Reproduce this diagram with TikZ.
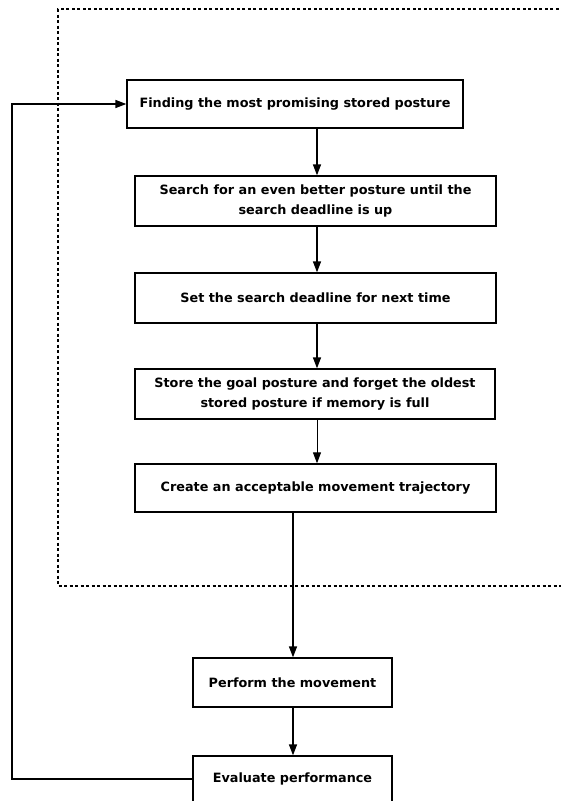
\documentclass[tikz,border=0pt]{standalone}
\usepackage{fontspec}
\setmainfont{DejaVu Sans}
\usetikzlibrary{arrows.meta}
\begin{document}
\begin{tikzpicture}[x=1pt,y=-1pt,
  stepbox/.style={draw, line width=1.3pt, rectangle, align=center,
    font=\bfseries\fontsize{12.8}{19.5}\selectfont, inner sep=0pt},
  arr/.style={line width=1.4pt, -{Triangle[length=11pt,width=8pt]}}]
\useasboundingbox (0,0) rectangle (560,801);

% planning loop boundary (open on the right)
\draw[dashed, line width=1.1pt, dash pattern=on 3pt off 2.5pt]
  (575,9) -- (58,9) -- (58,586) -- (575,586);

% steps
\node[stepbox, minimum width=336pt, minimum height=48pt] (b1) at (295,104)
  {Finding the most promising stored posture};
\node[stepbox, minimum width=361pt, minimum height=50pt] (b2) at (315.5,201)
  {Search for an even better posture until the\\search deadline is up};
\node[stepbox, minimum width=361pt, minimum height=50pt] (b3) at (315.5,298)
  {Set the search deadline for next time};
\node[stepbox, minimum width=360pt, minimum height=50pt] (b4) at (315,394)
  {Store the goal posture and forget the oldest\\stored posture if memory is full};
\node[stepbox, minimum width=361pt, minimum height=48pt] (b5) at (315.5,488)
  {Create an acceptable movement trajectory};
\node[stepbox, minimum width=199pt, minimum height=49pt] (pm) at (292.5,682.5)
  {Perform the movement};
\node[stepbox, minimum width=199pt, minimum height=46pt] (ev) at (292.5,779)
  {Evaluate performance};

% connector columns
\coordinate (cx) at (317,0);
\coordinate (px) at (293,0);
\coordinate (fbB) at (12,779);
\coordinate (fbT) at (12,104);

\draw[arr] (b1.south -| cx) -- (b2.north -| cx);
\draw[arr] (b2.south -| cx) -- (b3.north -| cx);
\draw[arr] (b3.south -| cx) -- (b4.north -| cx);
\draw[arr, line width=1pt] (b4.south -| cx) -- (b5.north -| cx);
\draw[arr] (b5.south -| px) -- (pm.north -| px);
\draw[arr] (pm.south -| px) -- (ev.north -| px);

% feedback from evaluation back to the first step
\draw[arr] (ev.west) -- (fbB) -- (fbT) -- (b1.west);
\end{tikzpicture}
\end{document}
